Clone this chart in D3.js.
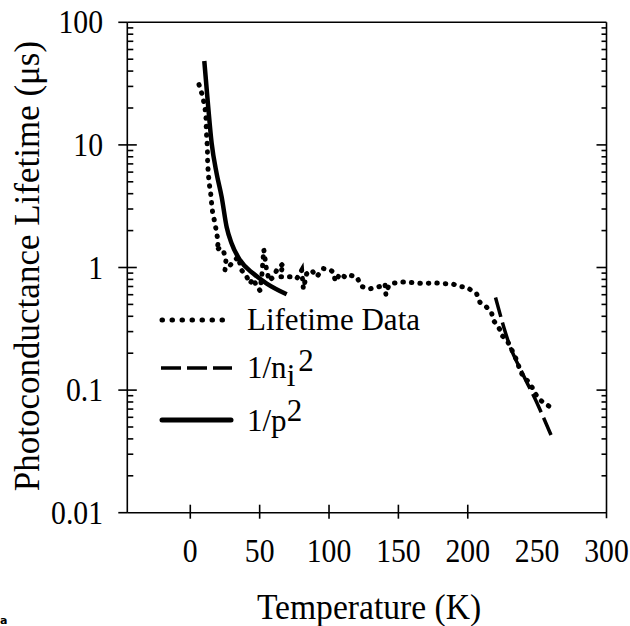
<!DOCTYPE html>
<html><head><meta charset="utf-8">
<script src="https://cdn.jsdelivr.net/npm/d3@7"></script>
</head><body style="margin:0;background:#fff">
<svg id="c" width="630" height="626" style="display:block"></svg>
<script>
// ---- data ----
const xTickValues = [0, 50, 100, 150, 200, 250, 300];
const xTickMarks = [0, 50, 100, 150, 200];
const yTickValues = [0.01, 0.1, 1, 10, 100];
const yTickLabels = ["0.01", "0.1", "1", "10", "100"];
const xTitle = "Temperature (K)";
const yTitle = "Photoconductance Lifetime (\u03bcs)";

// Lifetime data (dotted)
const lifeT = [6.3,8.9,10.6,11.3,11.5,11.8,12.3,12.5,13,13.7,14.7,15.4,16.1,17.8,19,20.2,19,21,23.8,25.7,25,28.6,32.2,34.6,37,40.7,43,45.4,47.9,50.2,51.5,53,54,55,57,59.8,62.3,67,64.7,71.9,76.7,80.3,81.5,83.9,87.5,91.1,95.9,100.3,103,104.6,107.9,111.9,115,119.9,123.5,129.5,136.7,140.3,141,143,145.2,151.2,156,162,168,175.2,182.4,189.6,194.4,199.2,202.8,206.4,208.8,212.4,214.8,217.3,218.5,220.9,223.3,224.5,228.1,230.5,232.8,235.3,237.7,240.1,244.9,248.5,252.1,259.3];
const lifeTau = [31,25,20,17,14,11.6,9.6,7.1,5.8,4.8,4.0,3.3,2.8,2.3,1.9,1.6,1.38,1.45,1.38,1.15,0.95,1.04,1.15,1.22,0.95,0.84,0.74,0.81,0.70,0.65,0.84,1.4,1.15,0.95,0.78,0.84,0.95,1.08,0.84,0.84,0.81,0.95,0.67,0.89,0.95,0.84,0.98,0.965,0.92,0.77,0.89,0.83,0.865,0.84,0.70,0.67,0.70,0.74,0.60,0.71,0.74,0.76,0.76,0.75,0.74,0.75,0.74,0.73,0.70,0.69,0.65,0.61,0.52,0.49,0.46,0.42,0.37,0.34,0.31,0.28,0.255,0.23,0.20,0.175,0.145,0.128,0.114,0.094,0.083,0.073];

// 1/ni^2 (dashed)
const niT = [220, 230, 240, 250, 260];
const niTau = [0.57, 0.235, 0.133, 0.078, 0.043];

// 1/p^2 (solid)
const pT = [10.1, 12.3, 15.4, 19.0, 22.6, 26.2, 29.8, 35.8, 45.4, 55.1, 69.5];
const pTau = [48.4, 24.6, 10.3, 5.84, 3.77, 2.14, 1.57, 1.15, 0.893, 0.74, 0.605];

const legendLabels = ["Lifetime Data", "1/n", "1/p"];

// ---- chart ----
const svg = d3.select("#c");
const L = 127.3, R = 606.5, T = 22.3, B = 512.7;
const x = d3.scaleLinear().domain([-45.4, 300]).range([L, R]);
const y = d3.scaleLog().domain([0.01, 100]).range([B, T]);

const g = svg.append("g");
const stroke = "#000";
const sw = 1.6;
function ln(x1, y1, x2, y2) {
  g.append("line").attr("x1", x1).attr("y1", y1).attr("x2", x2).attr("y2", y2)
    .attr("stroke", stroke).attr("stroke-width", sw);
}
function txt(parent, size) {
  return parent.append("text").attr("style", `font-family: Liberation Serif; font-size: ${size}px`).attr("fill", "#000");
}
// frame
ln(L, T, L, B);
ln(R, T, R, B + 5.5);
ln(L, T, R, T);
ln(L, B, R, B);

// y ticks
const minors = [];
for (let e = -2; e < 2; e++) for (let m = 2; m <= 9; m++) minors.push(m * Math.pow(10, e));
yTickValues.forEach(v => {
  ln(L - 9, y(v), (v === 100 || v === 0.01) ? L : L + 9.5, y(v));
  if (v !== 100 && v !== 0.01) ln(R - 10, y(v), R, y(v));
});
minors.forEach(v => {
  ln(L, y(v), L + 6, y(v));
  ln(R - 5, y(v), R, y(v));
});
// x ticks
xTickMarks.forEach(v => ln(x(v), B - 8, x(v), B + 6));

// tick labels (slightly condensed digits as in the reference)
yTickValues.forEach((v, i) => {
  txt(g, 33).attr("text-anchor", "end")
    .attr("transform", `translate(103,${y(v) + 11}) scale(0.9,1)`).text(yTickLabels[i]);
});
xTickValues.forEach(v => {
  txt(g, 33).attr("text-anchor", "middle")
    .attr("transform", `translate(${x(v)},562) scale(0.9,1)`).text(v);
});
// titles
txt(g, 35).attr("text-anchor", "middle").attr("transform", "translate(369,619) scale(0.96,1)").text(xTitle);
txt(g, 35).attr("text-anchor", "middle").attr("transform", "translate(39,266) rotate(-90)").text(yTitle);

// series
const mk = () => d3.line().x(d => x(d[0])).y(d => y(d[1]));
const lifeData = lifeT.map((t, i) => [t, lifeTau[i]]);
const niData = niT.map((t, i) => [t, niTau[i]]);
const pData = pT.map((t, i) => [t, pTau[i]]);

g.append("path").datum(pData).attr("d", mk().curve(d3.curveMonotoneX)).attr("fill", "none")
  .attr("stroke", stroke).attr("stroke-width", 4.5);
g.append("path").datum(niData).attr("d", mk().curve(d3.curveMonotoneX)).attr("fill", "none")
  .attr("stroke", stroke).attr("stroke-width", 3.5).attr("stroke-dasharray", "20 6");
g.append("path").datum(lifeData).attr("d", mk()).attr("fill", "none")
  .attr("stroke", stroke).attr("stroke-width", 5).attr("stroke-linecap", "round").attr("stroke-dasharray", "0.5 8");

// legend
const lg = svg.append("g");
lg.append("line").attr("x1", 162).attr("x2", 232).attr("y1", 320).attr("y2", 320).attr("stroke", stroke)
  .attr("stroke-width", 5).attr("stroke-linecap", "round").attr("stroke-dasharray", "0.5 9.5");
lg.append("line").attr("x1", 161).attr("x2", 232).attr("y1", 368).attr("y2", 368).attr("stroke", stroke)
  .attr("stroke-width", 3.5).attr("stroke-dasharray", "20 6");
lg.append("line").attr("x1", 162).attr("x2", 231).attr("y1", 420).attr("y2", 420).attr("stroke", stroke)
  .attr("stroke-width", 5).attr("stroke-linecap", "round");
txt(lg, 31).attr("x", 247).attr("y", 330).text(legendLabels[0]);
const t2 = txt(lg, 31).attr("x", 247).attr("y", 378);
t2.append("tspan").text(legendLabels[1]);
t2.append("tspan").attr("dy", 8).text("i");
t2.append("tspan").attr("dy", -15).attr("dx", 3).text("2");
const t3 = txt(lg, 31).attr("x", 247).attr("y", 431);
t3.append("tspan").text(legendLabels[2]);
t3.append("tspan").attr("dy", -10).text("2");

// stray panel letter
svg.append("text").attr("x", 0).attr("y", 624).attr("style", "font-family: DejaVu Sans; font-weight: bold; font-size: 11px").text("a");
</script></body></html>
